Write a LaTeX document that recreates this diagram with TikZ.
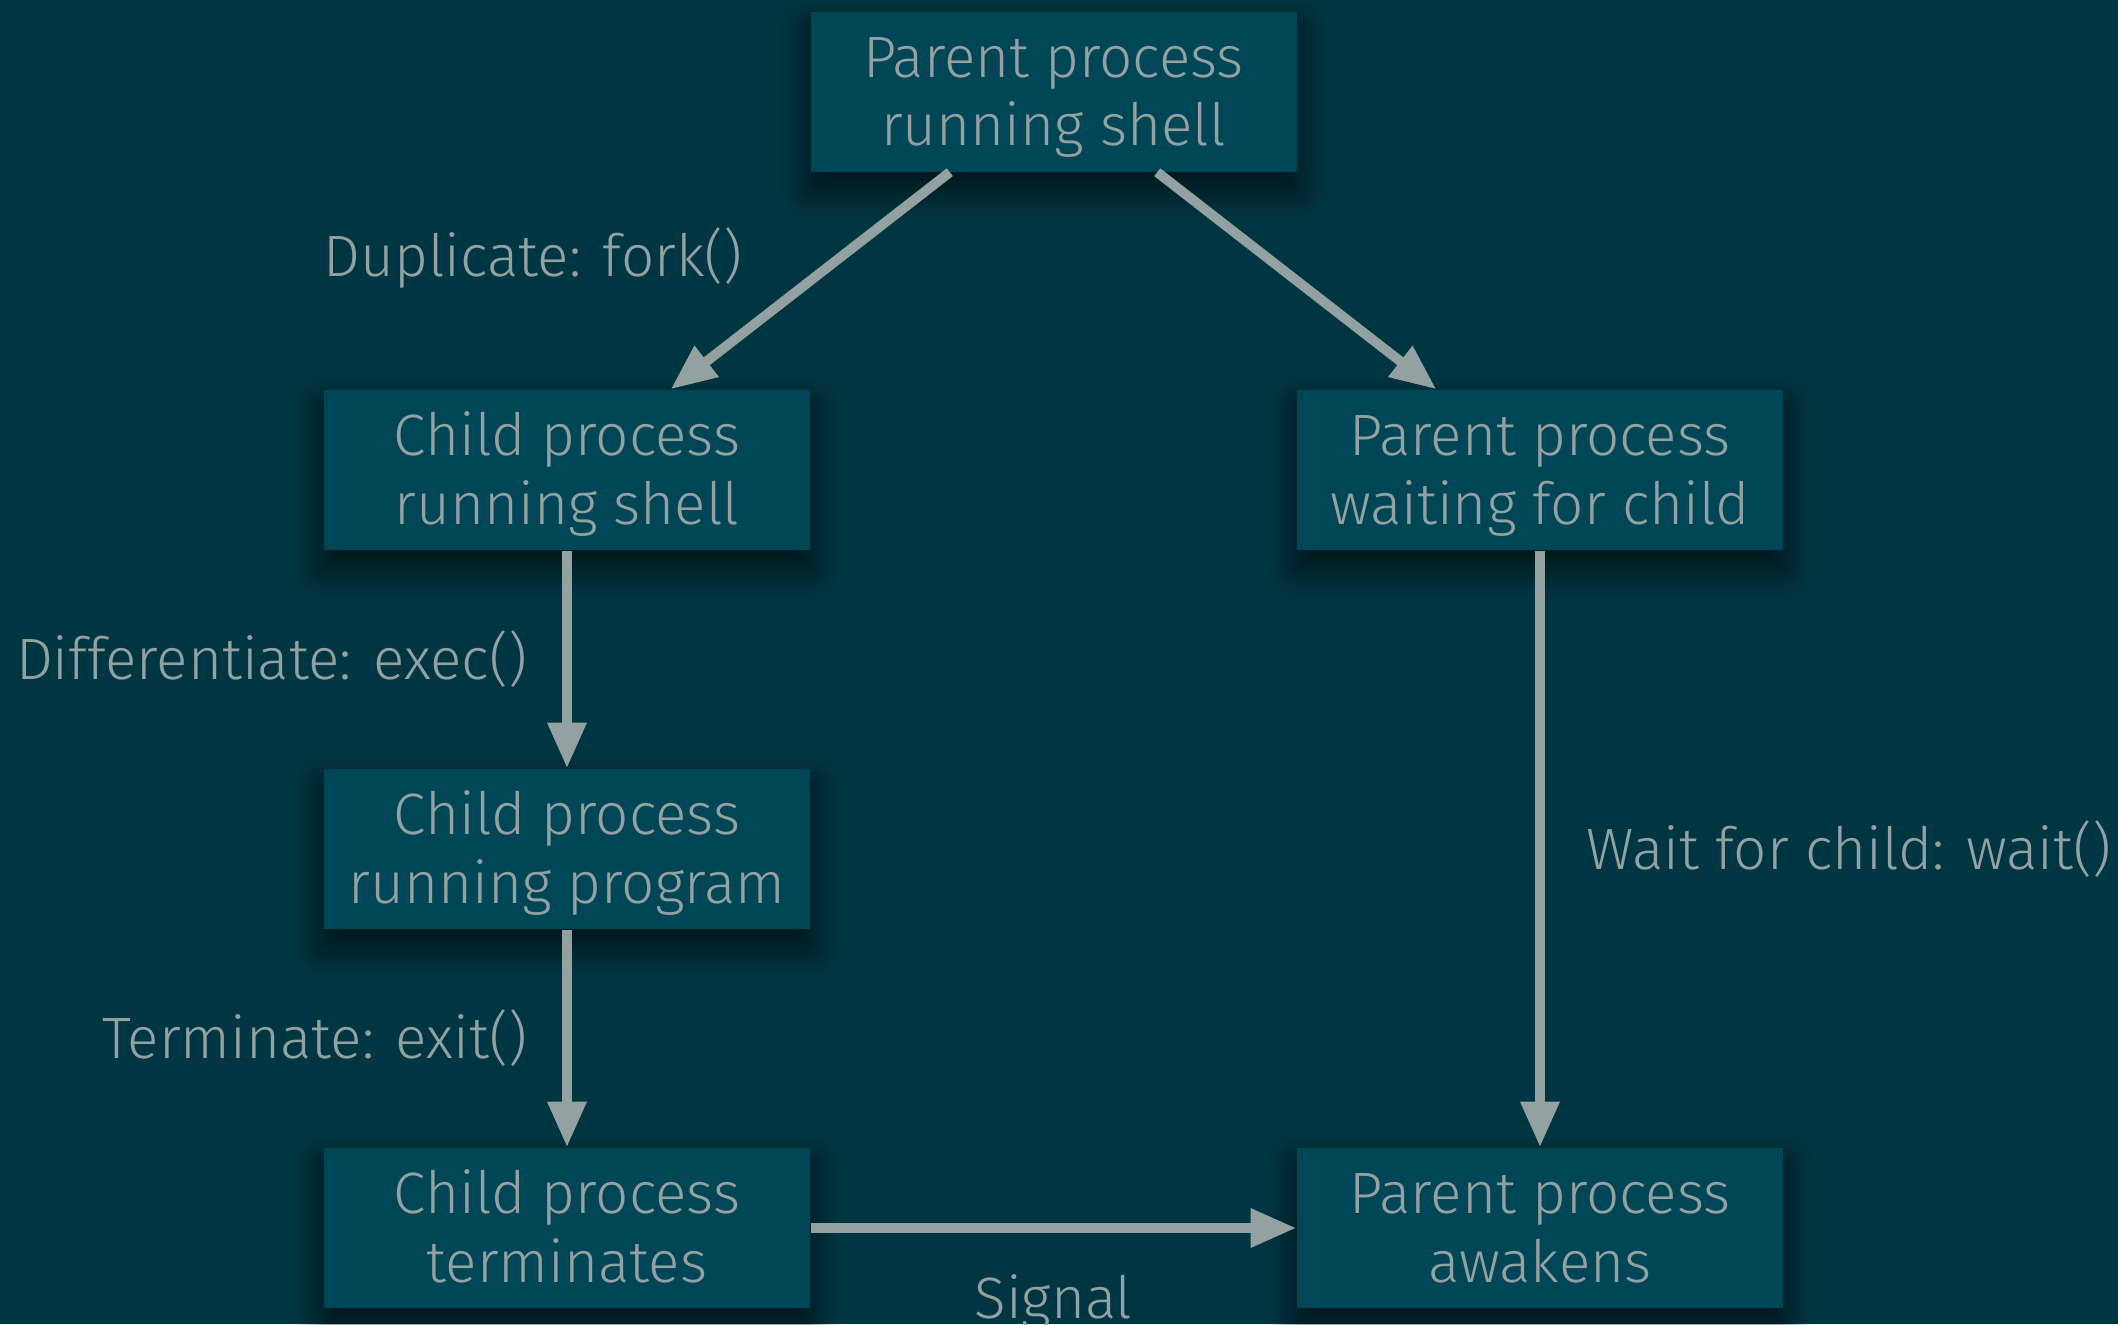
\documentclass[tikz,border=0pt]{standalone}
\usepackage{fontspec}
\setmainfont{Fira Sans Light}
\usepackage{tikz}
\usetikzlibrary{arrows.meta, shadows.blur}

\definecolor{bgcol}{RGB}{0,54,66}
\definecolor{boxcol}{RGB}{0,70,86}
\definecolor{fgcol}{RGB}{147,161,161}

\begin{document}
\begin{tikzpicture}[
		every node/.style={text=fgcol, font=\fontsize{16.6}{19.6}\selectfont},
		proc/.style={fill=boxcol, minimum width=4.86cm, minimum height=1.6cm, align=center, inner sep=0pt,
			text height=35pt, text depth=4pt,
			blur shadow={shadow xshift=0pt, shadow yshift=-5pt, shadow blur radius=9pt, shadow blur steps=10, shadow opacity=70}},
		lbl/.style={inner sep=0pt}]
			\fill[bgcol] (0,0) rectangle (21.18,-13.24);
			\useasboundingbox (0,0) rectangle (21.18,-13.24);
			% Nodes
			\node[proc] (0) at (10.535,-0.915) {Parent process\\running shell};
			\node[proc] (1) at (5.67,-4.70) {Child process\\running shell};
			\node[proc] (2) at (15.40,-4.70) {Parent process\\waiting for child};
			\node[proc] (3) at (5.67,-8.49) {Child process\\running program};
			\node[proc] (4) at (5.67,-12.28) {Child process\\terminates};
			\node[proc] (5) at (15.40,-12.28) {Parent process\\awakens};
			% Edges
			\path[-{Triangle[length=13pt, width=10.5pt]}, fgcol, line width=2.8pt] (0) edge node[lbl, midway, anchor=east, xshift=-0.63cm, yshift=0.23cm]{Duplicate: fork()} (1);
			\path[-{Triangle[length=13pt, width=10.5pt]}, fgcol, line width=2.8pt] (0) edge (2);
			\path[-{Triangle[length=13pt, width=10.5pt]}, fgcol, line width=2.8pt] (1) edge node[lbl, midway, left=0.35cm]{Differentiate: exec()} (3);
			\path[-{Triangle[length=13pt, width=10.5pt]}, fgcol, line width=2.8pt] (3) edge node[lbl, midway, left=0.35cm]{Terminate: exit()} (4);
			\path[-{Triangle[length=13pt, width=10.5pt]}, fgcol, line width=2.8pt] (2) edge node[lbl, midway, right=0.42cm]{Wait for child: wait()} (5);
			\path[-{Triangle[length=13pt, width=10.5pt]}, fgcol, line width=2.8pt] (4) edge node[lbl, midway, below=0.42cm]{Signal} (5);
		\end{tikzpicture}
\end{document}
